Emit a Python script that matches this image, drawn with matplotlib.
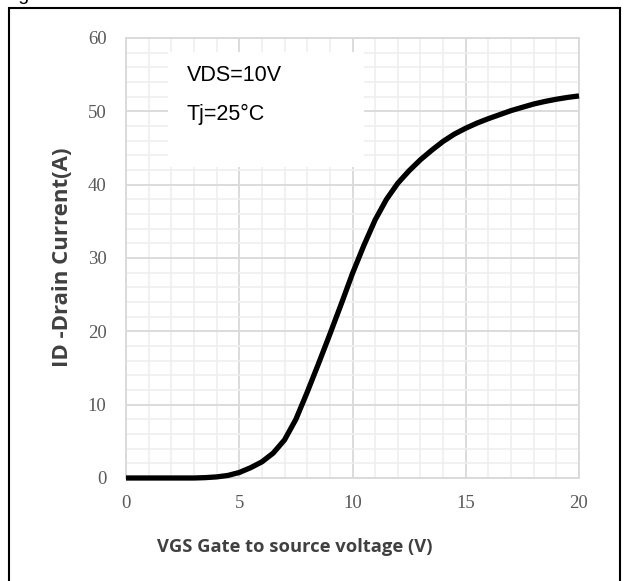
import numpy as np
import matplotlib.pyplot as plt
from matplotlib.patches import Rectangle

# transfer characteristic
vgs = [0, 1, 2, 3, 3.5, 4, 4.5, 5, 5.5, 6, 6.5, 7, 7.5, 8, 8.5, 9, 9.5, 10,
       10.5, 11, 11.5, 12, 12.5, 13, 13.5, 14, 14.5, 15, 15.5, 16, 16.5, 17,
       17.5, 18, 18.5, 19, 19.5, 20]
i_d = [0, 0, 0, 0, 0.05, 0.15, 0.35, 0.75, 1.4, 2.2, 3.4, 5.2, 8.0, 11.7,
       15.6, 19.6, 23.7, 27.9, 31.7, 35.2, 38.0, 40.2, 41.9, 43.4, 44.7,
       45.9, 46.9, 47.7, 48.4, 49.0, 49.55, 50.1, 50.55, 51.0, 51.35, 51.65,
       51.9, 52.1]

x_ticks = [0, 5, 10, 15, 20]
y_ticks = [0, 10, 20, 30, 40, 50, 60]
notes = ['VDS=10V', 'Tj=25°C']

fig = plt.figure(figsize=(6.25, 5.81), dpi=100)
ax = fig.add_axes([126/625, 1 - 478/581, 453/625, 440/581])

ax.set_xlim(0, 20)
ax.set_ylim(0, 60)
ax.set_xticks(x_ticks)
ax.set_yticks(y_ticks)
ax.set_xticks(np.arange(0, 21, 1), minor=True)
ax.set_yticks(np.arange(0, 61, 2), minor=True)
ax.grid(which='major', color='#d9d9d9', linewidth=1.3, zorder=0)
ax.grid(which='minor', color='#efefef', linewidth=1.2, zorder=0)
ax.set_axisbelow(True)
for s in ax.spines.values():
    s.set_color('#d9d9d9')
    s.set_linewidth(1.3)
ax.tick_params(which='both', length=0)
ax.tick_params(axis='x', pad=12)
ax.tick_params(axis='y', pad=14)
for lab in ax.get_xticklabels() + ax.get_yticklabels():
    lab.set_fontfamily('Liberation Serif')
    lab.set_fontsize(13.5)
    lab.set_color('#595959')

# white note box over the grid
ax.add_patch(Rectangle((1.85, 42.4), 8.65, 15.7, facecolor='white',
                       edgecolor='none', zorder=1))
ax.text(2.68, 54.9, notes[0], fontsize=15.5, family='Liberation Sans',
        va='center', ha='left', zorder=2)
ax.text(2.68, 49.6, notes[1], fontsize=15.5, family='Liberation Sans',
        va='center', ha='left', zorder=2)

ax.plot(vgs, i_d, color='black', linewidth=3.8, solid_joinstyle='round',
        solid_capstyle='butt', zorder=3, clip_on=False)

fig.text(295/625, 1 - 547/581, 'VGS Gate to source voltage (V)',
         family='Open Sans', fontweight='bold', fontsize=13.2, color='#404040',
         ha='center', va='center')
fig.text(62/625, 1 - 257/581, 'ID -Drain Current(A)', family='Open Sans',
         fontweight='bold', fontsize=16, color='#404040', rotation=90,
         ha='center', va='center')

# outer frame and clipped caption
fig.patches.append(Rectangle((9/625, -0.05), 611/625, 1.05 - 8/581,
                             transform=fig.transFigure, fill=False,
                             edgecolor='black', linewidth=1.5))
fig.text(2/625, 1.0, 'Fig', fontsize=14, family='Liberation Sans',
         va='baseline', ha='left')

fig.savefig('out.png', dpi=100)
